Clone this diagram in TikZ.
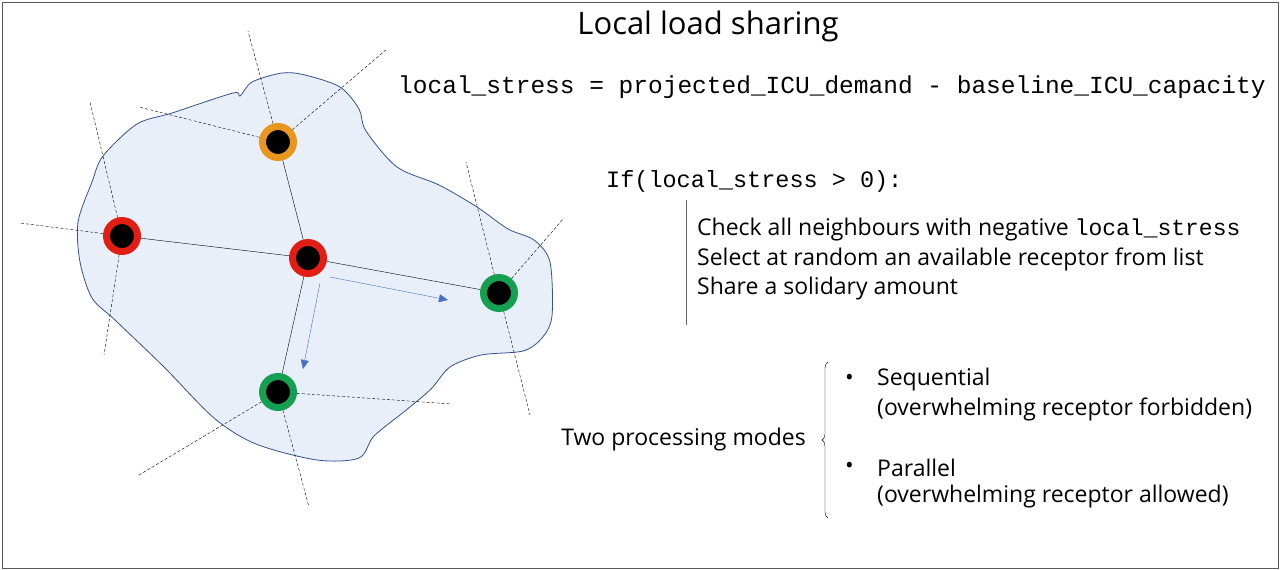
\documentclass[tikz,border=0pt]{standalone}
\usepackage{fontspec}
\setmainfont{Open Sans}
\setmonofont{Liberation Mono}
\usetikzlibrary{decorations.pathreplacing, arrows.meta}
\definecolor{blobfill}{RGB}{232,239,249}
\definecolor{blobline}{RGB}{52,82,140}
\definecolor{arrowblue}{RGB}{70,114,196}
\definecolor{nodeorange}{RGB}{232,150,30}
\definecolor{nodered}{RGB}{226,30,20}
\definecolor{nodegreen}{RGB}{20,160,80}
\tikzset{
  cell/.style={circle, fill=black, line width=7pt, minimum size=31pt, inner sep=0pt},
  border/.style={dashed, thin, dash pattern=on 3pt off 2pt},
  txt/.style={anchor=west, inner sep=0pt, font=\fontsize{23}{27}\selectfont}
}
\begin{document}
\begin{tikzpicture}[x=1pt,y=-1pt]
\useasboundingbox (0,0) rectangle (1280,570);
\draw[gray!70!black] (2,2) rectangle (1278,568);
% region
\draw[blobline, fill=blobfill, thick] plot[smooth cycle, tension=0.5] coordinates {
(78,222) (92,182) (103,156) (137,124) (172,113) (233,93) (240,96) (252,82) (282,73)
(305,75) (340,87) (359,109) (366,131) (397,167) (439,185) (477,207) (508,229) (534,240)
(550,262) (552,316) (542,338) (523,351) (481,355) (450,367) (431,389) (405,411) (374,436)
(359,458) (317,460) (256,444) (214,418) (164,367) (115,320) (92,298) (80,262)};
% neighbours
\node[cell, draw=nodeorange] (o) at (278,142) {};
\node[cell, draw=nodered] (l) at (122,236) {};
\node[cell, draw=nodered] (c) at (308,258) {};
\node[cell, draw=nodegreen] (r) at (499,293) {};
\node[cell, draw=nodegreen] (b) at (278,392) {};
\coordinate (o1) at (248,31); \coordinate (o2) at (387,49); \coordinate (o3) at (139,107);
\coordinate (l1) at (90,102); \coordinate (l2) at (104,355); \coordinate (l3) at (20,223);
\coordinate (r1) at (466,162); \coordinate (r2) at (530,415); \coordinate (r3) at (564,218);
\coordinate (b1) at (452,404); \coordinate (b2) at (139,475); \coordinate (b3) at (309,507);
\foreach \n in {o,l,r,b}
  \foreach \i in {1,2,3}
    \draw[border] (\n) -- (\n\i);
\foreach \n in {o,l,r,b}
  \draw (c) -- (\n);
% load transfer
\coordinate (a1) at (330,277); \coordinate (a2) at (448,300);
\coordinate (a3) at (320,283); \coordinate (a4) at (303,369);
\draw[arrowblue, -{Triangle[length=9pt,width=8pt]}] (a1) -- (a2);
\draw[arrowblue, -{Triangle[length=9pt,width=8pt]}] (a3) -- (a4);
% texts
\node[font=\fontsize{31}{36}\selectfont] (title) at (708,26) {Local load sharing};
\node[anchor=west, inner sep=0pt, font=\ttfamily\fontsize{24.5}{28}\selectfont] (eq) at (398,87)
  {local\_stress = projected\_ICU\_demand - baseline\_ICU\_capacity};
\node[anchor=west, inner sep=0pt, font=\ttfamily\fontsize{23.5}{28}\selectfont] (if) at (606,181)
  {If(local\_stress > 0):};
\draw[gray!80!black] (686,200) -- (686,325);
\node[txt] (t1) at (697,230) {Check all neighbours with negative {\ttfamily local\_stress}};
\node[txt] (t2) at (697,259) {Select at random an available receptor from list};
\node[txt] (t3) at (697,289) {Share a solidary amount};
\node[txt, anchor=east] (modes) at (806,440) {Two processing modes};
\draw[decorate, decoration={brace, amplitude=6pt}] (828,518) -- (828,362);
\node[txt] (d1) at (845,380) {•};
\node[txt] (s1) at (877,380) {Sequential};
\node[txt] (s2) at (877,409) {(overwhelming receptor forbidden)};
\node[txt] (d2) at (845,468) {•};
\node[txt] (p1) at (877,468) {Parallel};
\node[txt] (p2) at (877,497) {(overwhelming receptor allowed)};
\end{tikzpicture}
\end{document}
